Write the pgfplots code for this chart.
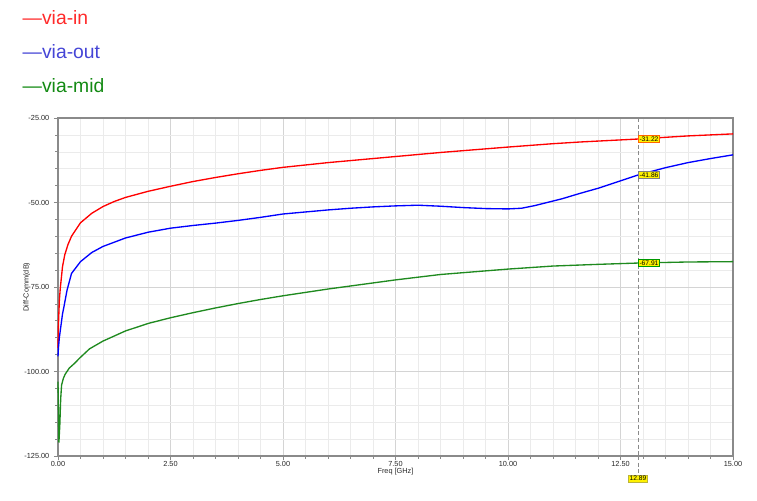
\documentclass[border=0pt]{standalone}
\usepackage{pgfplots}
\pgfplotsset{compat=1.18}
\usepackage{fontspec}
\setmainfont{Liberation Sans}
\definecolor{gridmaj}{HTML}{D4D4D4}
\definecolor{gridmin}{HTML}{EBEBEB}
\definecolor{axisgray}{HTML}{8A8A8A}
\definecolor{cin}{HTML}{FF0000}
\definecolor{cout}{HTML}{0000FF}
\definecolor{cmid}{HTML}{1F8A1F}
\definecolor{lin}{HTML}{FF2A2A}
\definecolor{lout}{HTML}{4545D6}
\definecolor{lmid}{HTML}{138A13}
\begin{document}
\begin{tikzpicture}
\useasboundingbox (-43.5pt,-33pt) rectangle (524.25pt,342pt);
\begin{axis}[
    scale only axis,
    width=506.25pt, height=253.5pt,
    xmin=0, xmax=15, ymin=-125, ymax=-25,
    xtick={0,2.5,5,7.5,10,12.5,15},
    xticklabels={0.00,2.50,5.00,7.50,10.00,12.50,15.00},
    ytick={-125,-100,-75,-50,-25},
    yticklabels={-125.00,-100.00,-75.00,-50.00,-25.00},
    minor x tick num=4, minor y tick num=4,
    grid=both,
    major grid style={gridmaj, line width=0.6pt},
    minor grid style={gridmin, line width=0.4pt},
    axis line style={axisgray, line width=0.8pt},
    tick align=outside,
    tick style={axisgray, line width=0.5pt},
    major tick length=3pt, minor tick length=2pt,
    xtick pos=bottom, ytick pos=left,
    tick label style={font=\fontsize{5.5}{6}\selectfont, text=black!85},
    xticklabel style={yshift=2.2pt},
    xlabel={Freq [GHz]},
    ylabel={Diff-Comm(dB)},
    label style={font=\fontsize{5.5}{6}\selectfont, text=black!85},
    xlabel style={at={(axis description cs:0.5,-0.047)}, anchor=center},
    ylabel style={at={(axis description cs:-0.0464,0.5)}, anchor=center},
    clip=false,
]
% via-in
\addplot[cin, line width=1pt] coordinates {
(0,-93)(0.01,-86)(0.03,-79)(0.05,-75.5)(0.1,-69)(0.15,-65.5)(0.22,-62.5)
(0.3,-60)(0.5,-56)(0.75,-53.2)(1.0,-51.2)(1.25,-49.7)(1.5,-48.5)(2.0,-46.7)
(2.5,-45.2)(3.0,-43.8)(3.5,-42.6)(4.0,-41.5)(4.5,-40.5)(5.0,-39.6)(6.0,-38.2)
(7.0,-37)(7.5,-36.4)(8.5,-35.2)(10,-33.6)(11,-32.6)(11.6,-32.1)
(12.89,-31.22)(14,-30.3)(15,-29.7)
};
% via-out
\addplot[cout, line width=1pt] coordinates {
(0,-95.5)(0.01,-93)(0.03,-90)(0.05,-88)(0.1,-83)(0.13,-81)(0.2,-76)
(0.3,-71)(0.5,-67.5)(0.75,-64.8)(1.0,-63)(1.5,-60.5)(2.0,-58.8)(2.5,-57.6)
(3.0,-56.8)(3.5,-56.1)(4.0,-55.3)(4.5,-54.4)(5.0,-53.4)(5.5,-52.8)
(6.0,-52.2)(6.5,-51.7)(7.0,-51.3)(7.5,-51)(8.0,-50.8)(8.5,-51.1)
(9.0,-51.5)(9.5,-51.8)(10.0,-51.9)(10.3,-51.7)(10.6,-50.9)(10.9,-49.9)
(11.2,-48.9)(11.6,-47.3)(12.0,-45.8)(12.5,-43.6)(12.89,-41.86)
(13.5,-39.7)(14,-38.2)(14.5,-37)(15,-35.9)
};
% via-mid
\addplot[cmid, line width=1pt] coordinates {
(0,-103)(0.01,-112)(0.02,-121)(0.04,-116)(0.06,-108)(0.08,-104)
(0.12,-102)(0.16,-100.8)(0.25,-99)(0.35,-97.8)(0.5,-95.8)(0.7,-93.3)
(1.0,-91)(1.5,-88)(2.0,-85.8)(2.5,-84.1)(3.0,-82.6)(3.5,-81.2)(4.0,-79.9)
(4.5,-78.7)(5.0,-77.6)(5.5,-76.6)(6.0,-75.6)(7.0,-73.8)(7.5,-72.9)
(8.5,-71.3)(10,-69.7)(11,-68.8)(12,-68.3)(12.89,-67.91)(14,-67.6)(15,-67.5)
};
% marker line and value tags
\draw[axisgray, densely dashed, line width=0.5pt]
  (axis cs:12.89,-25) -- (axis cs:12.89,-125);
\draw[axisgray, densely dashed, line width=0.5pt]
  (axis cs:12.89,-125) -- ([yshift=-14pt]axis cs:12.89,-125);
\tikzset{flag/.style={fill=yellow, anchor=west, inner sep=0.9pt,
  font=\fontsize{5}{5.5}\selectfont, line width=0.4pt}}
\node[flag, draw=orange!80!red] at (axis cs:12.89,-31.22) {-31.22};
\node[flag, draw=gray] at (axis cs:12.89,-41.86) {-41.86};
\node[flag, draw=green!60!black] at (axis cs:12.89,-67.91) {-67.91};
\node[fill=yellow, draw=yellow!70!black, inner sep=0.9pt,
  font=\fontsize{5}{5.5}\selectfont, line width=0.3pt]
  at ([yshift=-17pt]axis cs:12.89,-125) {12.89};
\end{axis}
\node[anchor=west, text=lin, font=\fontsize{14.5}{16}\selectfont] at (-30pt,328.5pt) {—via-in};
\node[anchor=west, text=lout, font=\fontsize{14.5}{16}\selectfont] at (-30pt,303pt) {—via-out};
\node[anchor=west, text=lmid, font=\fontsize{14.5}{16}\selectfont] at (-30pt,277.5pt) {—via-mid};
\end{tikzpicture}
\end{document}
